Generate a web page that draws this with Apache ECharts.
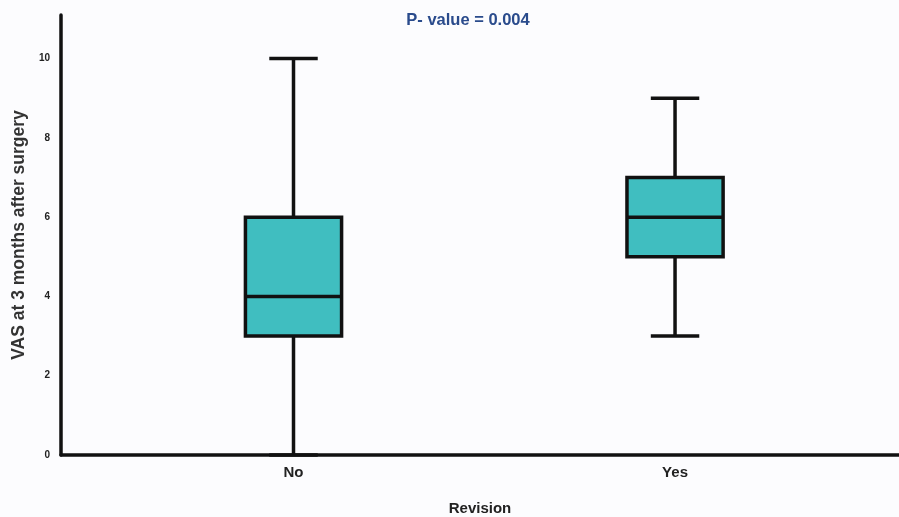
<!DOCTYPE html>
<html>
<head>
<meta charset="utf-8">
<script src="https://cdn.jsdelivr.net/npm/echarts@6/dist/echarts.min.js"></script>
<style>html,body{margin:0;padding:0;background:#fcfcfe;}#c{width:899px;height:517px;}</style>
</head>
<body>
<div id="c"></div>
<script>
const categories = ['No', 'Yes'];
// [min, Q1, median, Q3, max]
const boxValues = [
  [0, 3, 4, 6, 10],
  [3, 5, 6, 7, 9]
];
const yTicks = [0, 2, 4, 6, 8, 10];
const titleText = 'P- value = 0.004';

const chart = echarts.init(document.getElementById('c'));
const data = boxValues.map((v, i) => [i].concat(v));
const FF = 'Liberation Sans, Arial, sans-serif';

chart.setOption({
  backgroundColor: '#fcfcfe',
  animation: false,
  title: {
    text: titleText,
    left: 463, top: 7, textAlign: 'center',
    textStyle: { color: '#2a4b8c', fontSize: 16.5, fontWeight: 'bold', fontFamily: FF }
  },
  grid: { left: 61, right: 0, top: 15, bottom: 62, outerBoundsMode: 'none', containLabel: false },
  xAxis: {
    type: 'value',
    min: -0.6094, max: 1.587,
    name: 'Revision', nameLocation: 'middle', nameGap: 46,
    nameTextStyle: { fontSize: 15, fontWeight: 'bold', color: '#222', fontFamily: FF },
    axisLine: { show: true, onZero: false, lineStyle: { color: '#111', width: 3.5 } },
    axisTick: { show: false },
    splitLine: { show: false },
    axisLabel: {
      customValues: [0, 1],
      formatter: v => categories[Math.round(v)],
      fontSize: 15, fontWeight: 'bold', color: '#222', margin: 10,
      fontFamily: FF
    }
  },
  yAxis: {
    type: 'value', min: 0, max: 11.1,
    name: 'VAS at 3 months after surgery', nameLocation: 'middle', nameGap: 32,
    nameTextStyle: { fontSize: 17.5, fontWeight: 'bold', color: '#333', fontFamily: FF },
    axisLine: { show: true, onZero: false, lineStyle: { color: '#111', width: 3.5 } },
    axisTick: { show: false },
    splitLine: { show: false },
    axisLabel: {
      customValues: yTicks,
      fontSize: 10, fontWeight: 'bold', color: '#222', margin: 11,
      fontFamily: FF
    }
  },
  series: [{
    type: 'custom',
    data: data,
    encode: { x: 0, y: [1, 2, 3, 4, 5] },
    renderItem: function (params, api) {
      const x = api.value(0);
      const pMin = api.coord([x, api.value(1)]);
      const pQ1 = api.coord([x, api.value(2)]);
      const pMed = api.coord([x, api.value(3)]);
      const pQ3 = api.coord([x, api.value(4)]);
      const pMax = api.coord([x, api.value(5)]);
      const boxW = api.size([0.252, 0])[0];
      const capW = api.size([0.127, 0])[0];
      const cx = pMed[0];
      const ls = { stroke: '#111', lineWidth: 3.5 };
      return {
        type: 'group',
        children: [
          { type: 'line', shape: { x1: cx, y1: pMax[1], x2: cx, y2: pQ3[1] }, style: ls },
          { type: 'line', shape: { x1: cx, y1: pQ1[1], x2: cx, y2: pMin[1] }, style: ls },
          { type: 'line', shape: { x1: cx - capW / 2, y1: pMax[1], x2: cx + capW / 2, y2: pMax[1] }, style: ls },
          { type: 'line', shape: { x1: cx - capW / 2, y1: pMin[1], x2: cx + capW / 2, y2: pMin[1] }, style: ls },
          { type: 'rect', shape: { x: cx - boxW / 2, y: pQ3[1], width: boxW, height: pQ1[1] - pQ3[1] },
            style: { fill: '#40bec0', stroke: '#111', lineWidth: 3.5 } },
          { type: 'line', shape: { x1: cx - boxW / 2, y1: pMed[1], x2: cx + boxW / 2, y2: pMed[1] }, style: ls }
        ]
      };
    }
  }]
});
</script>
</body>
</html>
